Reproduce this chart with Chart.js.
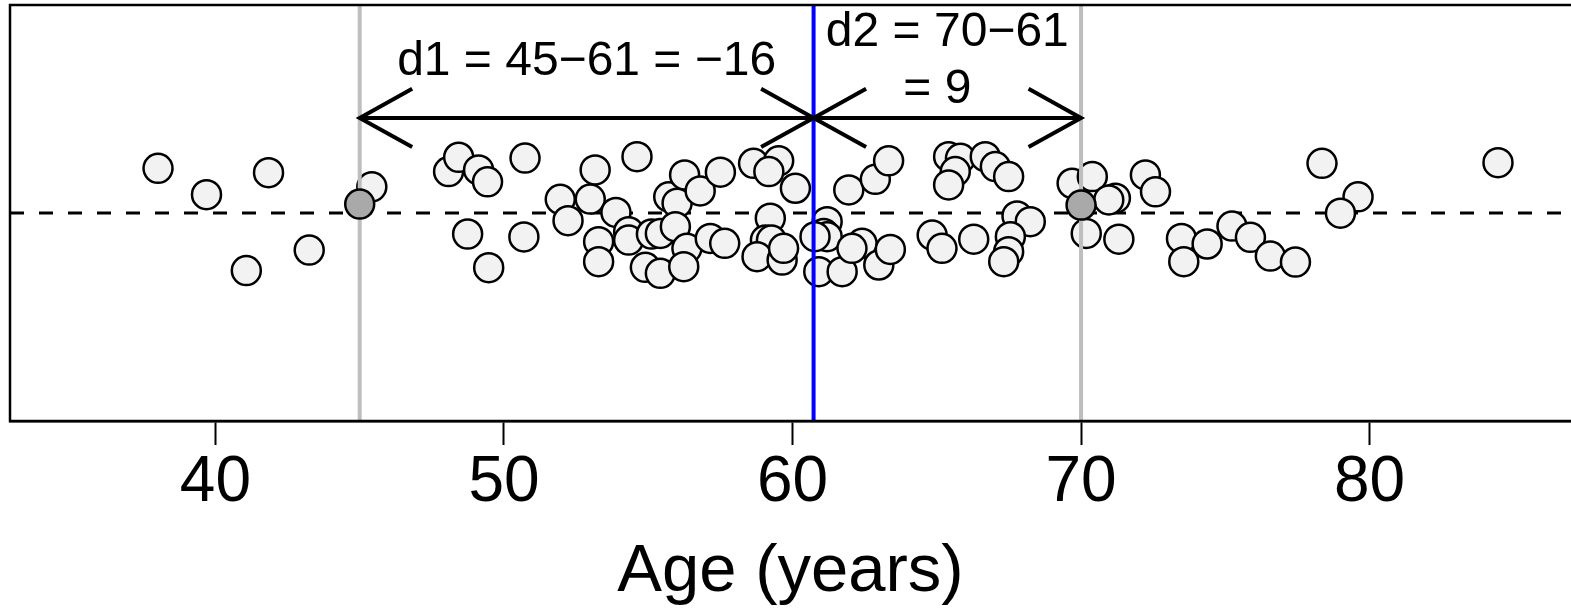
<!DOCTYPE html>
<html>
<head>
<meta charset="utf-8">
<script src="https://cdn.jsdelivr.net/npm/chart.js@4/dist/chart.umd.min.js"></script>
<style>
html,body{margin:0;padding:0;background:#fff;}
#wrap{width:1571px;height:613px;}
</style>
</head>
<body>
<div id="wrap"><canvas id="c" width="1571" height="613"></canvas></div>
<script>
// ---- data ----
const ages = [38.01,39.69,41.84,41.07,43.25,45.42,48.08,48.43,49.12,49.43,
  48.74,49.47,50.73,50.69,51.95,52.22,52.99,53.16,53.88,54.61,
  53.28,53.28,54.32,54.32,55.11,55.42,54.90,55.42,55.71,56.00,
  55.94,56.26,56.80,57.50,56.34,56.23,57.15,57.65,58.65,59.52,
  59.18,60.10,59.23,59.06,59.27,58.77,59.64,59.69,60.91,61.20,
  61.08,61.20,61.72,61.95,62.87,63.33,62.41,62.06,62.99,63.39,
  64.84,65.41,65.82,65.64,65.41,66.68,67.03,67.49,65.18,66.28,
  67.78,68.24,67.55,67.49,67.32,69.69,70.39,71.19,70.96,70.18,
  71.31,72.23,72.58,73.48,74.37,73.56,75.23,75.87,76.56,77.43,
  78.35,79.60,78.99,84.45,60.78];
const jitter = [0.215,0.088,0.194,-0.277,-0.178,0.126,0.199,0.268,0.207,0.150,
  -0.101,-0.263,0.264,-0.115,0.066,-0.037,0.067,0.207,0.003,0.271,
  -0.138,-0.234,-0.090,-0.130,-0.101,-0.098,-0.261,-0.290,0.078,0.047,
  -0.066,0.183,0.106,0.196,-0.170,-0.258,-0.122,-0.146,0.239,0.251,
  0.199,0.119,-0.025,-0.130,-0.130,-0.210,-0.226,-0.170,-0.282,-0.042,
  -0.098,-0.114,-0.282,0.111,0.162,0.251,-0.146,-0.170,-0.250,-0.175,
  -0.106,0.271,0.263,0.199,0.135,0.271,0.223,0.175,-0.170,-0.126,
  -0.014,-0.042,-0.114,-0.186,-0.234,0.143,0.175,0.071,0.063,-0.098,
  -0.126,0.183,0.102,-0.122,-0.149,-0.234,-0.063,-0.117,-0.207,-0.236,
  0.239,0.078,-0.001,0.242,-0.114];
const highlightAges = [45, 70];
const highlightJitter = [0.043, 0.038];
const meanAge = 60.73;
const tickValues = [40, 50, 60, 70, 80];
const xTitle = 'Age (years)';
const label1 = 'd1 = 45\u221261 = \u221216';
const label2a = 'd2 = 70\u221261';
const label2b = '= 9';
const arrowY = 0.457;
const xMin = 32.88, xMax = 86.98;

const FONT = '"Liberation Sans", Arial, Helvetica, sans-serif';

const pts = ages.map((a, i) => ({x: a, y: jitter[i]}));
const hpts = highlightAges.map((a, i) => ({x: a, y: highlightJitter[i]}));

const decor = {
  id: 'decor',
  afterDatasetsDraw(chart) {
    const {ctx, scales: {x, y}} = chart;
    const ay = y.getPixelForValue(arrowY);
    const x45 = x.getPixelForValue(highlightAges[0]);
    const x70 = x.getPixelForValue(highlightAges[1]);
    const xm = x.getPixelForValue(meanAge);
    ctx.save();
    ctx.strokeStyle = '#000';
    ctx.lineWidth = 4;
    ctx.lineCap = 'butt';
    const head = 60, ang = 29 * Math.PI / 180;
    function arrow(xa, xb) {
      ctx.beginPath();
      ctx.moveTo(xa, ay); ctx.lineTo(xb, ay);
      const dx = Math.cos(ang) * head, dy = Math.sin(ang) * head;
      ctx.moveTo(xa + dx, ay - dy); ctx.lineTo(xa, ay); ctx.lineTo(xa + dx, ay + dy);
      ctx.moveTo(xb - dx, ay - dy); ctx.lineTo(xb, ay); ctx.lineTo(xb - dx, ay + dy);
      ctx.stroke();
    }
    arrow(x45, xm);
    arrow(xm, x70);
    ctx.fillStyle = '#000';
    ctx.font = '48px ' + FONT;
    ctx.textAlign = 'center';
    ctx.textBaseline = 'middle';
    ctx.fillText(label1, x.getPixelForValue((highlightAges[0] + meanAge) / 2), y.getPixelForValue(0.726));
    ctx.fillText(label2a, x.getPixelForValue((highlightAges[1] + meanAge) / 2), y.getPixelForValue(0.865));
    ctx.fillText(label2b, x.getPixelForValue(65.02), y.getPixelForValue(0.591));
    ctx.restore();
  },
  afterDraw(chart) {
    const {ctx, chartArea: a} = chart;
    ctx.save();
    ctx.strokeStyle = '#000';
    ctx.lineWidth = 2.5;
    ctx.strokeRect(a.left, a.top, a.right - a.left + 20, a.bottom - a.top);
    ctx.restore();
  }
};

new Chart(document.getElementById('c'), {
  type: 'scatter',
  data: {
    datasets: [
      {
        type: 'line', label: 'zero', order: 5,
        data: [{x: xMin, y: 0}, {x: xMax, y: 0}],
        borderColor: '#000', borderWidth: 3, borderDash: [14, 15],
        pointRadius: 0, fill: false
      },
      {
        label: 'ages', order: 4, data: pts,
        pointRadius: 14.5, pointHoverRadius: 14.5,
        backgroundColor: '#F2F2F2', borderColor: '#000', borderWidth: 2.5
      },
      {
        type: 'line', label: 'v45', order: 3,
        data: [{x: highlightAges[0], y: -1}, {x: highlightAges[0], y: 1}],
        borderColor: '#BEBEBE', borderWidth: 4, pointRadius: 0, fill: false
      },
      {
        type: 'line', label: 'v70', order: 3,
        data: [{x: highlightAges[1], y: -1}, {x: highlightAges[1], y: 1}],
        borderColor: '#BEBEBE', borderWidth: 4, pointRadius: 0, fill: false
      },
      {
        type: 'line', label: 'mean', order: 3,
        data: [{x: meanAge, y: -1}, {x: meanAge, y: 1}],
        borderColor: '#0000FF', borderWidth: 4, pointRadius: 0, fill: false
      },
      {
        label: 'highlight', order: 2, data: hpts,
        pointRadius: 14.5, pointHoverRadius: 14.5,
        backgroundColor: '#A9A9A9', borderColor: '#000', borderWidth: 2.5
      }
    ]
  },
  options: {
    responsive: false,
    animation: false,
    devicePixelRatio: 1,
    layout: {autoPadding: false, padding: {top: 5, left: 10, right: 0, bottom: 0}},
    plugins: {legend: {display: false}, tooltip: {enabled: false}},
    events: [],
    scales: {
      x: {
        type: 'linear', position: 'bottom', min: xMin, max: xMax,
        afterBuildTicks(s) { s.ticks = tickValues.map(v => ({value: v})); },
        afterFit(s) { s.height = 192; },
        ticks: {
          color: '#000', padding: 0, maxRotation: 0, autoSkip: false,
          font: {family: FONT, size: 64, lineHeight: 1.2},
          callback: v => String(v)
        },
        grid: {drawOnChartArea: false, drawTicks: true, tickLength: 24, tickWidth: 2, tickColor: '#000'},
        border: {display: true, color: '#000', width: 2.5},
        title: {display: true, text: xTitle, color: '#000', padding: 0,
          font: {family: FONT, size: 67, lineHeight: 1.2}}
      },
      y: {type: 'linear', display: false, min: -1, max: 1}
    }
  },
  plugins: [decor]
});
</script>
</body>
</html>
